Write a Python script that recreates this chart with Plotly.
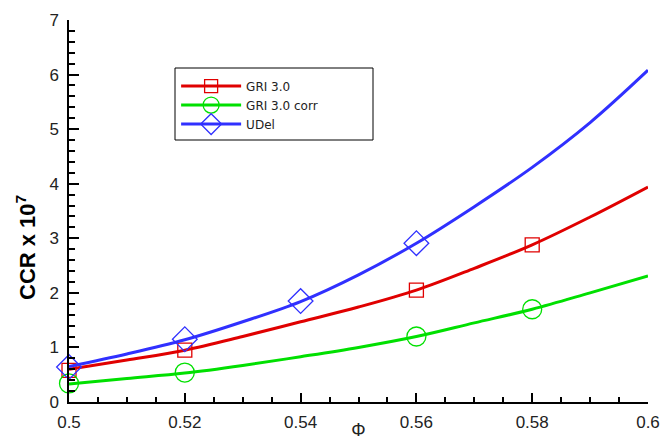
import plotly.graph_objects as go

# Curve samples
phi = [0.50, 0.51, 0.52, 0.53, 0.54, 0.55, 0.56, 0.57, 0.58, 0.59, 0.60]
gri30 = [0.60, 0.77, 0.95, 1.20, 1.47, 1.74, 2.05, 2.45, 2.88, 3.39, 3.94]
gri30_corr = [0.33, 0.43, 0.53, 0.67, 0.83, 1.00, 1.20, 1.45, 1.70, 2.00, 2.31]
udel = [0.65, 0.88, 1.14, 1.47, 1.84, 2.33, 2.91, 3.58, 4.30, 5.12, 6.08]

# Marker points
gri30_mx = [0.50, 0.52, 0.56, 0.58]
gri30_my = [0.58, 0.95, 2.05, 2.88]
corr_mx = [0.50, 0.52, 0.56, 0.58]
corr_my = [0.34, 0.54, 1.20, 1.70]
udel_mx = [0.50, 0.52, 0.54, 0.56]
udel_my = [0.64, 1.15, 1.85, 2.91]

# Tick labels
x_tickvals = [0.50, 0.52, 0.54, 0.56, 0.58, 0.60]
x_ticktext = ["0.5", "0.52", "0.54", "0.56", "0.58", "0.6"]
y_tickvals = [0, 1, 2, 3, 4, 5, 6, 7]
y_ticktext = ["0", "1", "2", "3", "4", "5", "6", "7"]

names = ["GRI 3.0", "GRI 3.0 corr", "UDel"]
colors = ["#e00000", "#00e000", "#3030ff"]
symbols = ["square-open", "circle-open", "diamond-open"]
sizes = [14, 19, 19]

fig = go.Figure()
curves = [gri30, gri30_corr, udel]
mxs = [gri30_mx, corr_mx, udel_mx]
mys = [gri30_my, corr_my, udel_my]
for i in range(3):
    fig.add_trace(go.Scatter(x=phi, y=curves[i], mode="lines", line=dict(color=colors[i], width=3, shape="spline"),
                             showlegend=False, hoverinfo="skip", cliponaxis=False))
    fig.add_trace(go.Scatter(x=mxs[i], y=mys[i], mode="markers", cliponaxis=False,
                             marker=dict(symbol=symbols[i], size=sizes[i], color=colors[i], line=dict(width=1.3, color=colors[i])),
                             showlegend=False))
for i in range(3):
    fig.add_trace(go.Scatter(x=[None], y=[None], mode="lines+markers", name=names[i],
                             line=dict(color=colors[i], width=3),
                             marker=dict(symbol=symbols[i], size=[13, 16, 16][i], color=colors[i], line=dict(width=1.3, color=colors[i]))))

fig.update_layout(
    width=660, height=440,
    margin=dict(l=69, r=12, t=20, b=38, autoexpand=False),
    paper_bgcolor="white", plot_bgcolor="white",
    font=dict(family="Liberation Sans, Arial, sans-serif", color="#222"),
    showlegend=True,
    legend=dict(x=0.185, y=0.865, xanchor="left", yanchor="top", bgcolor="rgba(0,0,0,0)",
                font=dict(size=12, family="DejaVu Sans"), itemwidth=60, tracegroupgap=0),
    shapes=[dict(type="rect", xref="paper", yref="paper",
                 x0=(175 - 69) / 579, x1=(373 - 69) / 579,
                 y0=(402 - 140) / 382, y1=(402 - 68) / 382,
                 line=dict(color="black", width=1))],
    annotations=[dict(text="<b>CCR x 10<sup>7</sup></b>", textangle=-90, xref="paper", yref="paper",
                      x=(26 - 69) / 579, y=(402 - 248) / 382, xanchor="center", yanchor="middle",
                      showarrow=False, font=dict(size=22, color="black"))],
)
fig.update_xaxes(range=[0.5, 0.6], tickmode="array", tickvals=x_tickvals, ticktext=x_ticktext, automargin=False,
                 ticks="inside", ticklen=9, tickwidth=1.5, ticklabelstandoff=4,
                 showline=True, linecolor="black", linewidth=1.5, showgrid=False, zeroline=False,
                 tickfont=dict(size=17), title=dict(text="Φ", font=dict(size=18), standoff=4),
                 minor=dict(ticks="inside", ticklen=5, tickvals=[0.505, 0.51, 0.515, 0.525, 0.53, 0.535, 0.545, 0.55, 0.555,
                                                                  0.565, 0.57, 0.575, 0.585, 0.59, 0.595],
                            tickcolor="black", tickwidth=1.5),
                 tickcolor="black")
fig.update_yaxes(range=[0, 7], tickmode="array", tickvals=y_tickvals, ticktext=y_ticktext, automargin=False,
                 ticks="inside", ticklen=10, tickwidth=1.5, ticklabelstandoff=5,
                 showline=True, linecolor="black", linewidth=1.5, showgrid=False, zeroline=False,
                 tickfont=dict(size=17),
                 minor=dict(ticks="inside", ticklen=6, dtick=0.2, tickcolor="black", tickwidth=1.5),
                 tickcolor="black")

fig.write_html("out.html")
